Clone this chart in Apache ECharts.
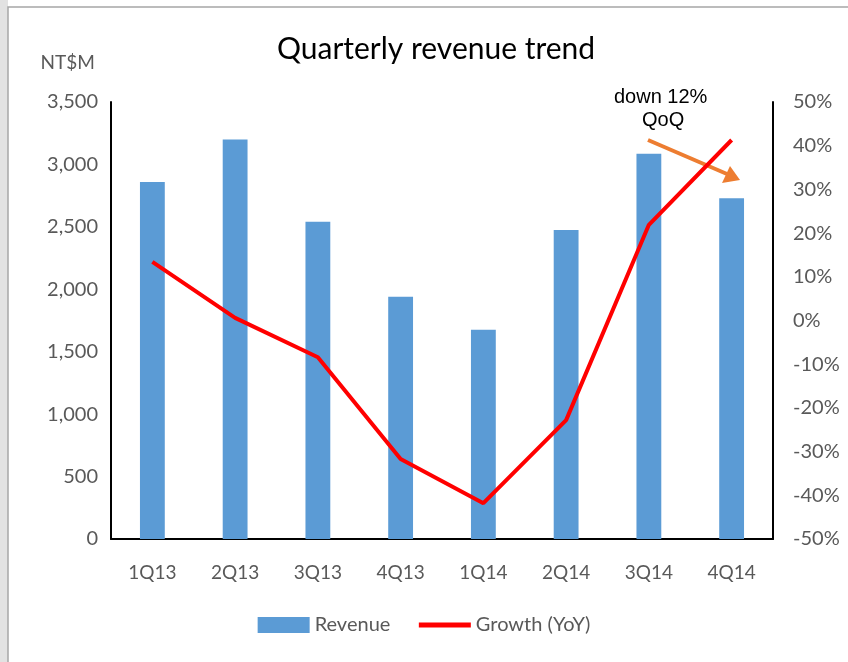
<!DOCTYPE html>
<html>
<head>
<meta charset="utf-8">
<script src="https://cdn.jsdelivr.net/npm/echarts@6/dist/echarts.min.js"></script>
<style>
  html, body { margin: 0; padding: 0; background: #fff; }
  #chart { width: 848px; height: 662px; }
</style>
</head>
<body>
<div id="chart"></div>
<script>
// quarters on the x axis
var quarters = ['1Q13', '2Q13', '3Q13', '4Q13', '1Q14', '2Q14', '3Q14', '4Q14'];
// revenue, NT$ million
var revenue = [2860, 3200, 2540, 1940, 1675, 2475, 3085, 2730];
// year-over-year growth, percent
var growth = [13.4, 0.6, -8.4, -31.7, -41.8, -22.8, 21.9, 41.3];

var labelFont = 'Lato, "Open Sans", sans-serif';
var noteFont = '20px "Liberation Sans", Arial, sans-serif';
var myChart = echarts.init(document.getElementById('chart'));

option = {
    backgroundColor: '#fff',
    animation: false,
    title: {
        text: 'Quarterly revenue trend',
        left: 272,
        top: 29,
        textStyle: { color: '#000', fontSize: 30, fontWeight: 'normal', fontFamily: labelFont }
    },
    legend: {
        bottom: 22,
        left: 'center',
        itemWidth: 52,
        itemHeight: 16,
        itemGap: 26,
        textStyle: { color: '#595959', fontSize: 20, fontFamily: labelFont },
        data: [
            { name: 'Revenue', icon: 'rect' },
            { name: 'Growth (YoY)', itemStyle: { opacity: 0 }, lineStyle: { width: 5 } }
        ]
    },
    grid: { left: 111, right: 75, top: 102, bottom: 123 },
    xAxis: {
        type: 'category',
        data: quarters,
        axisTick: { show: false },
        axisLine: { lineStyle: { color: '#000', width: 2 } },
        axisLabel: { color: '#595959', fontSize: 19, margin: 24, fontFamily: labelFont }
    },
    yAxis: [
        {
            type: 'value',
            name: 'NT$M',
            nameLocation: 'end',
            nameGap: 30,
            nameTextStyle: { color: '#595959', fontSize: 19, align: 'right', padding: [0, 16, 0, 0], fontFamily: labelFont },
            min: 0, max: 3500, interval: 500,
            splitLine: { show: false },
            axisTick: { show: false },
            axisLine: { show: true, lineStyle: { color: '#000', width: 2 } },
            axisLabel: {
                color: '#595959', fontSize: 20, margin: 13, fontFamily: labelFont,
                formatter: function (v) { return v.toLocaleString('en-US'); }
            }
        },
        {
            type: 'value',
            min: -50, max: 50, interval: 10,
            splitLine: { show: false },
            axisTick: { show: false },
            axisLine: { show: true, lineStyle: { color: '#000', width: 2 } },
            axisLabel: { color: '#595959', fontSize: 20, margin: 20, fontFamily: labelFont, formatter: '{value}%' }
        }
    ],
    series: [
        {
            name: 'Revenue',
            type: 'bar',
            data: revenue,
            barWidth: '30%',
            itemStyle: { color: '#5b9bd5' }
        },
        {
            name: 'Growth (YoY)',
            type: 'line',
            yAxisIndex: 1,
            data: growth,
            symbol: 'none',
            lineStyle: { color: '#ff0000', width: 4 },
            itemStyle: { color: '#ff0000' }
        }
    ],
    graphic: [
        // slide frame
        { type: 'rect', shape: { x: 0, y: 0, width: 8, height: 662 }, style: { fill: '#e2e2e2' }, silent: true },
        { type: 'rect', shape: { x: 8, y: 7, width: 900, height: 700 }, style: { fill: 'none', stroke: '#a6a6a6', lineWidth: 1.5 }, silent: true },
        // QoQ annotation
        { type: 'text', left: 614, top: 87, style: { text: 'down 12%', fill: '#000', font: noteFont } },
        { type: 'text', left: 642, top: 110, style: { text: 'QoQ', fill: '#000', font: noteFont } },
        { type: 'line', shape: { x1: 648, y1: 140, x2: 727, y2: 174 }, style: { stroke: '#ed7d31', lineWidth: 4 } },
        { type: 'polygon', shape: { points: [[740, 180], [722, 183], [730, 166]] }, style: { fill: '#ed7d31' } }
    ]
};
myChart.setOption(option);
</script>
</body>
</html>
